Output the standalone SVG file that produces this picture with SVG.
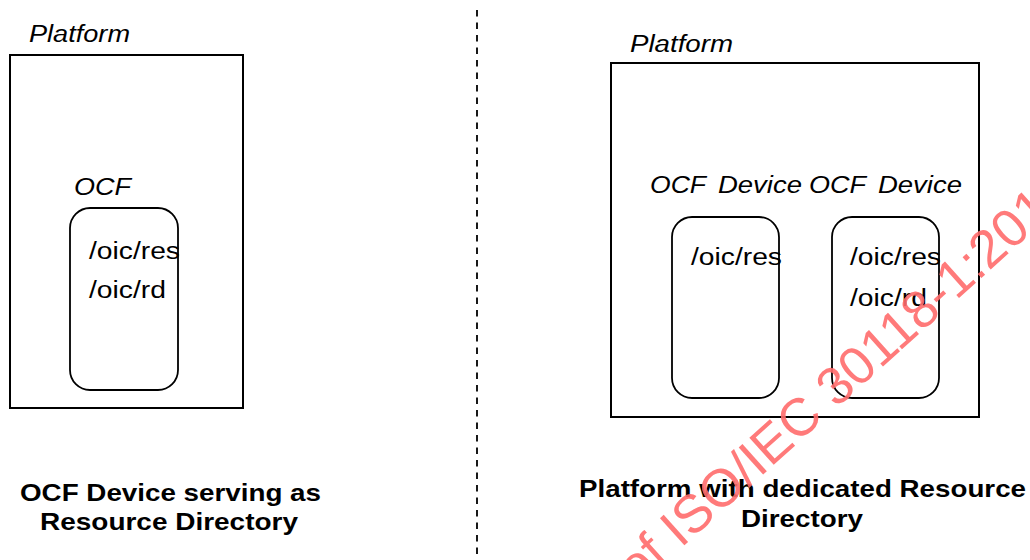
<svg xmlns="http://www.w3.org/2000/svg" width="1030" height="560" viewBox="0 0 1030 560">
<style>
.box{fill:none;stroke:#000;stroke-width:2}
.dev{fill:none;stroke:#000;stroke-width:1.8}
.it{font-family:"Liberation Sans",Arial,sans-serif;font-style:italic;font-size:23px;fill:#000}
.rg{font-family:"Liberation Sans",Arial,sans-serif;font-size:23px;fill:#000}
.bd{font-family:"Liberation Sans",Arial,sans-serif;font-weight:bold;font-size:24px;fill:#000}
.wm{font-family:"Liberation Sans",Arial,sans-serif;font-size:53px;fill:#ff6b6b;fill-opacity:0.9}
</style>
<rect width="1030" height="560" fill="#fff"/>
<g id="connectors">
<line x1="477" y1="10" x2="477" y2="560" stroke="#000" stroke-width="1.8" stroke-dasharray="6.5 6"/>
</g>
<g id="left-platform">
<rect class="box" x="10" y="55" width="233" height="353"/>
<text class="it" x="29" y="42" textLength="101" lengthAdjust="spacingAndGlyphs">Platform</text>
</g>
<g id="left-device">
<rect class="dev" x="70" y="208" width="108" height="182" rx="20"/>
<text class="it" x="74" y="195" textLength="57" lengthAdjust="spacingAndGlyphs">OCF</text>
<text class="rg" x="89" y="259" textLength="91" lengthAdjust="spacingAndGlyphs">/oic/res</text>
<text class="rg" x="89" y="298" textLength="77" lengthAdjust="spacingAndGlyphs">/oic/rd</text>
</g>
<g id="left-caption">
<text class="bd" x="20" y="501" textLength="301" lengthAdjust="spacingAndGlyphs">OCF Device serving as</text>
<text class="bd" x="40" y="530" textLength="258" lengthAdjust="spacingAndGlyphs">Resource Directory</text>
</g>
<g id="right-platform">
<rect class="box" x="611" y="63" width="368" height="354"/>
<text class="it" x="630" y="52" textLength="103" lengthAdjust="spacingAndGlyphs">Platform</text>
</g>
<g id="right-device-1">
<rect class="dev" x="672" y="217" width="107" height="181" rx="20"/>
<text class="it" y="193"><tspan x="650" textLength="56" lengthAdjust="spacingAndGlyphs">OCF</tspan><tspan x="718" textLength="84" lengthAdjust="spacingAndGlyphs">Device</tspan></text>
<text class="rg" x="691" y="265" textLength="91" lengthAdjust="spacingAndGlyphs">/oic/res</text>
</g>
<g id="right-device-2">
<rect class="dev" x="832" y="217" width="107" height="181" rx="20"/>
<text class="it" y="193"><tspan x="809" textLength="57" lengthAdjust="spacingAndGlyphs">OCF</tspan><tspan x="878" textLength="84" lengthAdjust="spacingAndGlyphs">Device</tspan></text>
<text class="rg" x="850" y="265" textLength="91" lengthAdjust="spacingAndGlyphs">/oic/res</text>
<text class="rg" x="850" y="306" textLength="77" lengthAdjust="spacingAndGlyphs">/oic/rd</text>
</g>
<g id="right-caption">
<text class="bd" x="579" y="497" textLength="447" lengthAdjust="spacingAndGlyphs">Platform with dedicated Resource</text>
<text class="bd" x="741" y="527" textLength="122" lengthAdjust="spacingAndGlyphs">Directory</text>
</g>
<g id="watermark">
<text class="wm" transform="translate(637,588) rotate(-42)">of ISO/IEC 30118-1:2018</text>
</g>
</svg>
